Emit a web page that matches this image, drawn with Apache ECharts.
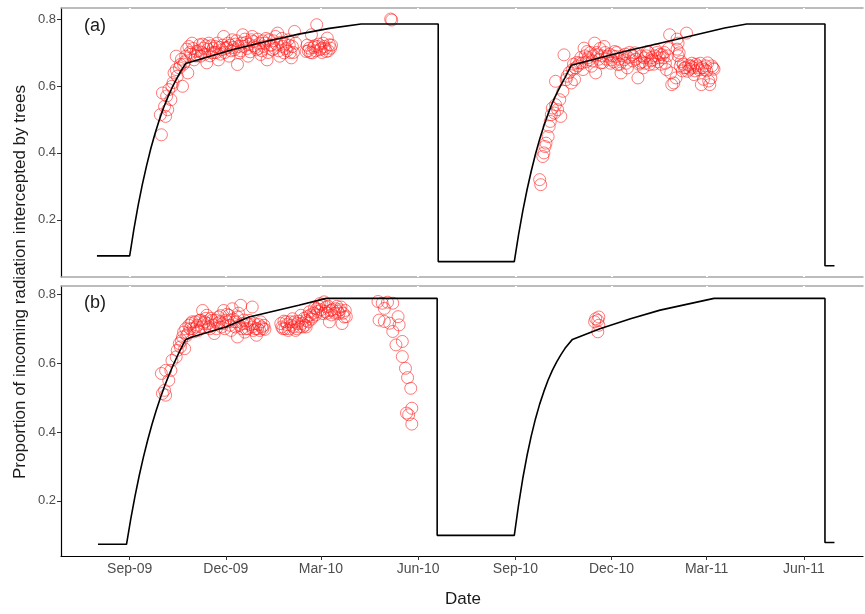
<!DOCTYPE html>
<html>
<head>
<meta charset="utf-8">
<script src="https://cdn.jsdelivr.net/npm/echarts@6/dist/echarts.min.js"></script>
<style>
html,body{margin:0;padding:0;background:#fff;}
#chart{width:865px;height:614px;}
</style>
</head>
<body>
<div id="chart"></div>
<script>
// ---------- DATA ----------
const xTickDates = ['2009-09-01','2009-12-01','2010-03-01','2010-06-01','2010-09-01','2010-12-01','2011-03-01','2011-06-01'];
const yTickValues = [0.2, 0.4, 0.6, 0.8];
const panelLabels = ['(a)', '(b)'];

// Panel (a) model line
const lineADates = ['2009-08-01','2009-09-01','2009-09-05','2009-09-09','2009-09-13','2009-09-17','2009-09-21','2009-09-25','2009-09-29',
  '2009-10-03','2009-10-07','2009-10-11','2009-10-15','2009-10-19','2009-10-24',
  '2009-12-07','2010-01-08','2010-02-08','2010-03-09','2010-04-08','2010-06-20','2010-06-20','2010-08-31',
  '2010-09-04','2010-09-08','2010-09-12','2010-09-16','2010-09-20','2010-09-24','2010-09-28','2010-10-02','2010-10-06',
  '2010-10-10','2010-10-14','2010-10-18','2010-10-24',
  '2010-12-13','2011-01-30','2011-03-18','2011-04-08','2011-06-21','2011-06-21','2011-06-30'];
const lineAValues = [0.092,0.092,0.172,0.243,0.306,0.362,0.413,0.458,0.498,
  0.534,0.566,0.594,0.619,0.642,0.667,
  0.708,0.733,0.755,0.772,0.785,0.785,0.075,0.075,
  0.155,0.226,0.289,0.345,0.396,0.441,0.481,0.517,0.549,
  0.577,0.602,0.625,0.662,
  0.703,0.738,0.773,0.785,0.785,0.0625,0.0625];

// Panel (a) observations, season 2009-10
const scatterA1Dates = ['2009-10-01','2009-09-30','2009-10-02','2009-10-04','2009-10-05','2009-10-07','2009-10-08','2009-10-10','2009-10-11','2009-10-13',
  '2009-10-15','2009-10-16','2009-10-18','2009-10-21','2009-10-15','2009-10-19','2009-10-24','2009-10-26','2009-10-27','2009-10-30',
  '2009-11-01','2009-11-03','2009-11-06','2009-11-07','2009-11-10','2009-11-13','2009-11-15','2009-11-18','2009-11-21','2009-11-24',
  '2009-11-27','2009-11-29','2009-12-03','2009-12-04','2009-12-07','2009-12-09','2009-12-12','2009-12-14','2009-12-17','2009-12-18',
  '2009-12-22','2009-12-25','2009-12-26','2009-12-30','2010-01-02','2010-01-03','2010-01-06','2010-01-09','2010-01-11','2010-01-14',
  '2010-01-17','2010-01-19','2010-01-21','2010-01-24','2010-01-25','2010-01-29','2010-02-01','2010-02-02','2010-02-04','2010-02-05',
  '2010-02-15','2010-02-18','2010-02-20','2010-02-21','2010-02-25','2010-02-26','2010-02-28','2010-03-03','2010-03-06','2010-03-09',
  '2010-03-07','2010-03-10','2010-05-06','2010-05-07',
  '2009-10-20','2009-10-28','2009-11-04','2009-11-12','2009-11-20','2009-12-01','2009-12-10','2009-12-20','2009-12-28','2010-01-05',
  '2010-01-13','2010-01-22','2010-01-27','2010-02-03','2010-02-17','2010-02-23','2010-03-01','2010-03-04','2010-03-08','2010-03-11',
  '2009-10-12','2009-10-06','2009-10-22','2009-10-25',
  '2009-10-23','2009-10-29','2009-10-31','2009-11-02','2009-11-05','2009-11-08','2009-11-09','2009-11-11','2009-11-14','2009-11-16',
  '2009-11-17','2009-11-19','2009-11-22','2009-11-23','2009-11-25','2009-11-26','2009-11-28','2009-11-30','2009-12-02','2009-12-05',
  '2009-12-06','2009-12-08','2009-12-11','2009-12-13','2009-12-15','2009-12-16','2009-12-19','2009-12-21','2009-12-23','2009-12-24',
  '2009-12-27','2009-12-29','2009-12-31','2010-01-01','2010-01-04','2010-01-07','2010-01-08','2010-01-10','2010-01-12','2010-01-15',
  '2010-01-16','2010-01-18','2010-01-20','2010-01-23','2010-01-26','2010-01-28','2010-01-30','2010-01-31','2010-02-16','2010-02-19',
  '2010-02-22','2010-02-24','2010-02-27','2010-03-02','2010-03-05'];
const scatterA1Values = [0.454,0.514,0.579,0.539,0.509,0.529,0.589,0.559,0.599,0.639,
  0.649,0.629,0.654,0.599,0.689,0.664,0.689,0.639,0.718,0.728,
  0.678,0.703,0.723,0.689,0.713,0.669,0.728,0.699,0.718,0.678,
  0.708,0.748,0.728,0.689,0.738,0.708,0.664,0.699,0.753,0.718,
  0.689,0.738,0.748,0.708,0.728,0.694,0.718,0.678,0.738,0.708,
  0.748,0.758,0.689,0.718,0.699,0.738,0.684,0.718,0.763,0.728,
  0.703,0.713,0.753,0.699,0.783,0.718,0.708,0.728,0.703,0.723,
  0.743,0.713,0.800,0.797,
  0.680,0.700,0.690,0.720,0.700,0.712,0.725,0.730,0.720,0.735,
  0.722,0.730,0.712,0.700,0.705,0.720,0.712,0.718,0.705,0.722,
  0.610,0.570,0.665,0.710,
  0.672,0.695,0.712,0.690,0.705,0.700,0.725,0.695,0.710,0.690,
  0.720,0.712,0.700,0.728,0.715,0.695,0.722,0.700,0.715,0.722,
  0.705,0.715,0.735,0.718,0.705,0.728,0.740,0.712,0.725,0.702,
  0.733,0.715,0.740,0.712,0.705,0.728,0.742,0.700,0.722,0.735,
  0.712,0.725,0.705,0.742,0.725,0.705,0.722,0.700,0.722,0.700,
  0.715,0.705,0.725,0.700,0.712];

// Panel (a) observations, season 2010-11
const scatterA2Dates = ['2010-09-24','2010-09-25','2010-09-27','2010-09-28','2010-09-29','2010-09-30','2010-10-02','2010-10-03','2010-10-04','2010-10-05',
  '2010-10-06','2010-10-08','2010-10-09','2010-10-11','2010-10-13','2010-10-14','2010-10-16','2010-10-09','2010-10-17','2010-10-19',
  '2010-10-20','2010-10-24','2010-10-25','2010-10-27','2010-10-28','2010-11-01','2010-11-04','2010-11-05','2010-11-08','2010-11-10',
  '2010-11-12','2010-11-15','2010-11-16','2010-11-18','2010-11-21','2010-11-24','2010-11-27','2010-12-01','2010-12-04','2010-12-07',
  '2010-12-10','2010-12-13','2010-12-16','2010-12-20','2010-12-23','2010-12-26','2010-12-28','2010-12-31','2011-01-01','2011-01-04',
  '2011-01-06','2011-01-09','2011-01-12','2011-01-15','2011-01-18','2011-01-22','2011-01-25','2011-01-26','2011-01-29','2011-01-31',
  '2011-02-02','2011-02-01','2011-02-01','2011-02-02','2011-02-03','2011-02-05','2011-02-10','2011-02-08','2011-02-11','2011-02-14',
  '2011-02-17','2011-02-21','2011-02-24','2011-02-27','2011-03-02','2011-03-05','2011-03-07','2011-03-04','2011-01-27',
  '2010-10-22','2010-10-26','2010-10-29','2010-10-30','2010-11-02','2010-11-03','2010-11-06','2010-11-07','2010-11-09','2010-11-11',
  '2010-11-13','2010-11-14','2010-11-17','2010-11-19','2010-11-20','2010-11-22','2010-11-23','2010-11-25','2010-11-26','2010-11-29',
  '2010-11-30','2010-12-02','2010-12-03','2010-12-05','2010-12-06','2010-12-08','2010-12-09','2010-12-11','2010-12-14','2010-12-15',
  '2010-12-17','2010-12-18','2010-12-21','2010-12-22','2010-12-24','2010-12-27','2010-12-29','2010-12-30','2011-01-02','2011-01-03',
  '2011-01-05','2011-01-07','2011-01-08','2011-01-10','2011-01-11','2011-01-13','2011-01-14','2011-01-16','2011-01-17','2011-01-19',
  '2011-01-20','2011-01-21','2011-01-23','2011-01-24','2011-02-04','2011-02-06','2011-02-07','2011-02-09','2011-02-12','2011-02-13',
  '2011-02-15','2011-02-16','2011-02-18','2011-02-19','2011-02-20','2011-02-22','2011-02-23','2011-02-25','2011-02-26','2011-02-28',
  '2011-03-01','2011-03-03','2011-03-06','2011-03-08'];
const scatterA2Values = [0.320,0.305,0.389,0.400,0.419,0.429,0.449,0.479,0.494,0.514,
  0.534,0.519,0.544,0.529,0.559,0.509,0.584,0.614,0.693,0.619,
  0.629,0.609,0.649,0.619,0.654,0.669,0.649,0.713,0.703,0.678,
  0.659,0.728,0.639,0.693,0.669,0.718,0.689,0.678,0.703,0.664,
  0.639,0.678,0.654,0.693,0.699,0.624,0.669,0.654,0.684,0.703,
  0.664,0.678,0.708,0.684,0.693,0.649,0.753,0.639,0.609,0.624,
  0.728,0.740,0.710,0.690,0.699,0.673,0.758,0.654,0.644,0.659,
  0.634,0.654,0.604,0.649,0.669,0.624,0.654,0.604,0.604,
  0.640,0.665,0.670,0.660,0.685,0.668,0.690,0.672,0.685,0.700,
  0.675,0.690,0.700,0.680,0.712,0.690,0.670,0.700,0.680,0.695,
  0.668,0.690,0.672,0.688,0.700,0.680,0.665,0.690,0.695,0.668,
  0.685,0.700,0.675,0.688,0.680,0.665,0.690,0.672,0.668,0.690,
  0.700,0.675,0.685,0.665,0.690,0.700,0.672,0.695,0.665,0.685,
  0.700,0.668,0.690,0.712,0.660,0.645,0.665,0.655,0.662,0.650,
  0.668,0.655,0.645,0.665,0.660,0.648,0.668,0.655,0.620,0.660,
  0.645,0.615,0.660,0.650];

// Panel (b) model line
const lineBDates = ['2009-08-02','2009-08-29','2009-09-02','2009-09-06','2009-09-10','2009-09-14','2009-09-18','2009-09-22','2009-09-26','2009-09-30',
  '2009-10-04','2009-10-08','2009-10-12','2009-10-16','2009-10-20','2009-10-24',
  '2009-10-30','2009-12-01','2009-12-23','2010-02-08','2010-03-06','2010-06-19','2010-06-19','2010-08-31',
  '2010-09-04','2010-09-08','2010-09-12','2010-09-16','2010-09-20','2010-09-24','2010-09-28','2010-10-02','2010-10-06',
  '2010-10-10','2010-10-14','2010-10-18','2010-10-25',
  '2010-11-20','2010-12-19','2011-01-16','2011-03-08','2011-06-21','2011-06-21','2011-06-30'];
const lineBValues = [0.074,0.074,0.147,0.213,0.273,0.327,0.376,0.421,0.462,0.499,
  0.533,0.564,0.593,0.620,0.645,0.669,
  0.676,0.705,0.734,0.768,0.788,0.788,0.100,0.100,
  0.188,0.265,0.331,0.388,0.438,0.481,0.518,0.551,0.579,
  0.603,0.624,0.643,0.669,
  0.700,0.729,0.754,0.788,0.788,0.079,0.079];

// Panel (b) observations
const scatterBDates = ['2009-10-02','2009-10-04','2009-10-05','2009-10-01','2009-10-05','2009-10-08','2009-10-10','2009-10-11','2009-10-15','2009-10-16',
  '2009-10-18','2009-10-19','2009-10-21','2009-10-23','2009-10-24','2009-10-26','2009-10-27','2009-10-30','2009-11-01','2009-11-03',
  '2009-11-06','2009-11-09','2009-11-10','2009-11-13','2009-11-15','2009-11-18','2009-11-20','2009-11-23','2009-11-24','2009-11-27',
  '2009-11-29','2009-12-03','2009-12-04','2009-12-06','2009-12-07','2009-12-09','2009-12-12','2009-12-12','2009-12-15','2009-12-17',
  '2009-12-20','2009-12-23','2009-12-26','2009-12-26','2009-12-30','2009-12-31','2010-01-03','2010-01-05','2010-01-06',
  '2010-01-22','2010-01-24','2010-01-27','2010-01-29','2010-02-01','2010-02-02','2010-02-05','2010-02-07','2010-02-10','2010-02-12',
  '2010-02-15','2010-02-18','2010-02-21','2010-02-25','2010-02-28','2010-03-03','2010-03-04','2010-03-06','2010-03-09','2010-03-10',
  '2010-03-15','2010-03-18','2010-03-20','2010-03-21','2010-03-23','2010-03-24','2010-02-15',
  '2010-04-24','2010-04-28','2010-05-03','2010-05-08','2010-04-30','2010-04-25','2010-04-30','2010-05-05','2010-05-13','2010-05-14',
  '2010-05-08','2010-05-11','2010-05-17','2010-05-17','2010-05-20','2010-05-22','2010-05-25','2010-05-26','2010-05-21','2010-05-23','2010-05-26',
  '2010-11-16','2010-11-18','2010-11-19','2010-11-15','2010-11-18','2010-11-19',
  '2009-10-20','2009-10-22','2009-10-25','2009-10-28','2009-10-29','2009-10-31','2009-11-02','2009-11-04','2009-11-05','2009-11-07',
  '2009-11-08','2009-11-11','2009-11-12','2009-11-14','2009-11-16','2009-11-17','2009-11-19','2009-11-21','2009-11-22','2009-11-25',
  '2009-11-26','2009-11-28','2009-11-30','2009-12-01','2009-12-02','2009-12-05','2009-12-08','2009-12-10','2009-12-11','2009-12-13',
  '2009-12-14','2009-12-16','2009-12-18','2009-12-19','2009-12-21','2009-12-22','2009-12-24','2009-12-27','2009-12-28','2009-12-29',
  '2010-01-01','2010-01-02','2010-01-04','2010-01-07','2010-01-23','2010-01-25','2010-01-26','2010-01-28','2010-01-30','2010-01-31',
  '2010-02-03','2010-02-04','2010-02-06','2010-02-08','2010-02-09','2010-02-11','2010-02-13','2010-02-14','2010-02-16','2010-02-17',
  '2010-02-19','2010-02-20','2010-02-22','2010-02-23','2010-02-24','2010-02-26','2010-02-27','2010-03-01','2010-03-02','2010-03-05',
  '2010-03-07','2010-03-08','2010-03-11','2010-03-12','2010-03-14','2010-03-16','2010-03-17','2010-03-19','2010-03-22','2010-03-25'];
const scatterBValues = [0.512,0.521,0.507,0.570,0.579,0.550,0.579,0.608,0.618,0.637,
  0.657,0.647,0.676,0.642,0.700,0.686,0.710,0.720,0.691,0.705,
  0.724,0.753,0.715,0.739,0.705,0.724,0.686,0.715,0.734,0.705,
  0.753,0.720,0.739,0.695,0.758,0.720,0.734,0.676,0.768,0.715,
  0.700,0.724,0.763,0.705,0.681,0.700,0.720,0.700,0.710,
  0.715,0.700,0.720,0.695,0.710,0.729,0.695,0.715,0.739,0.705,
  0.724,0.749,0.734,0.758,0.773,0.744,0.778,0.763,0.720,0.753,
  0.758,0.744,0.763,0.715,0.734,0.753,0.705,
  0.779,0.774,0.777,0.774,0.759,0.725,0.721,0.716,0.735,0.711,
  0.692,0.653,0.663,0.619,0.585,0.558,0.527,0.469,0.455,0.450,0.423,
  0.729,0.724,0.734,0.720,0.691,0.710,
  0.665,0.690,0.680,0.700,0.715,0.700,0.720,0.710,0.695,0.725,
  0.705,0.720,0.730,0.715,0.700,0.730,0.710,0.725,0.700,0.720,
  0.738,0.715,0.700,0.725,0.742,0.710,0.728,0.705,0.720,0.745,
  0.710,0.700,0.725,0.690,0.715,0.700,0.712,0.695,0.715,0.700,
  0.712,0.695,0.705,0.698,0.705,0.722,0.700,0.712,0.700,0.720,
  0.705,0.720,0.700,0.722,0.705,0.715,0.730,0.710,0.735,0.720,
  0.740,0.728,0.745,0.760,0.740,0.750,0.765,0.755,0.770,0.750,
  0.745,0.765,0.740,0.755,0.745,0.765,0.750,0.755,0.745,0.735];

// ---------- CHART ----------
function parseDay(s){ const p = s.split('-').map(Number); return new Date(p[0], p[1]-1, p[2]).getTime(); }
function zip(d, v){ return d.map((s,i)=>[parseDay(s), v[i]]); }
const months = ['Jan','Feb','Mar','Apr','May','Jun','Jul','Aug','Sep','Oct','Nov','Dec'];
const tickTs = xTickDates.map(parseDay);
const xMin = parseDay('2009-06-28'), xMax = parseDay('2011-07-27');
const FONT = 'Liberation Sans, Arial, sans-serif';

function grayX(gridIndex, pos){
  return {type:'value', gridIndex, position:pos, min:xMin, max:xMax, scale:true,
    axisLine:{show:true, lineStyle:{color:'#a6a6a6', width:1.5}},
    axisTick:{show:true, inside:true, length:2, lineStyle:{color:'#fff', width:2}, customValues:tickTs},
    axisLabel:{show:false, customValues:tickTs}, splitLine:{show:false}};
}
function yAx(gridIndex, mn, mx){
  return {type:'value', gridIndex, min:mn, max:mx,
    axisLine:{show:true, lineStyle:{color:'#000', width:1.2}},
    axisTick:{show:true, length:4, lineStyle:{color:'#333'}, customValues:yTickValues},
    axisLabel:{show:true, customValues:yTickValues, formatter:v=>v.toFixed(1), color:'#4d4d4d', fontSize:13, fontFamily:FONT, margin:5},
    splitLine:{show:false}};
}

const chart = echarts.init(document.getElementById('chart'), null, {renderer:'canvas'});
const circleStyle = {color:'rgba(0,0,0,0)', borderColor:'rgba(255,25,25,0.72)', borderWidth:1};
function scatter(xi, yi, d, v){
  return {type:'scatter', xAxisIndex:xi, yAxisIndex:yi, data:zip(d, v), symbol:'circle', symbolSize:12, itemStyle:circleStyle, z:2};
}
chart.setOption({
  animation:false,
  backgroundColor:'#fff',
  grid:[
    {left:61, top:8, width:802, height:269},
    {left:61, top:286, width:802, height:270}
  ],
  xAxis:[
    grayX(0,'bottom'),
    grayX(0,'top'),
    {type:'value', gridIndex:1, position:'bottom', min:xMin, max:xMax, scale:true,
      axisLine:{show:true, lineStyle:{color:'#000', width:1.2}},
      axisTick:{show:true, length:4, lineStyle:{color:'#333'}, customValues:tickTs},
      axisLabel:{show:true, customValues:tickTs, color:'#4d4d4d', fontSize:14, fontFamily:FONT, margin:6,
        formatter:v=>{const d=new Date(v); return months[d.getMonth()]+'-'+String(d.getFullYear()).slice(2);}},
      splitLine:{show:false}},
    grayX(1,'top')
  ],
  yAxis:[ yAx(0, 0.029, 0.833), yAx(1, 0.04, 0.824) ],
  series:[
    scatter(0, 0, scatterA1Dates, scatterA1Values),
    scatter(0, 0, scatterA2Dates, scatterA2Values),
    {type:'line', xAxisIndex:0, yAxisIndex:0, data:zip(lineADates, lineAValues), showSymbol:false, lineStyle:{color:'#000', width:1.6}, z:3},
    scatter(2, 1, scatterBDates, scatterBValues),
    {type:'line', xAxisIndex:2, yAxisIndex:1, data:zip(lineBDates, lineBValues), showSymbol:false, lineStyle:{color:'#000', width:1.6}, z:3}
  ],
  graphic:[
    {type:'text', left:84, top:17, style:{text:panelLabels[0], font:'18px '+FONT, fill:'#1a1a1a'}},
    {type:'text', left:84, top:294, style:{text:panelLabels[1], font:'18px '+FONT, fill:'#1a1a1a'}},
    {type:'text', x:463, y:599, style:{text:'Date', font:'17px '+FONT, fill:'#1a1a1a', align:'center', verticalAlign:'middle'}},
    {type:'text', x:20, y:282, rotation:Math.PI/2, style:{text:'Proportion of incoming radiation intercepted by trees', font:'17px '+FONT, fill:'#1a1a1a', align:'center', verticalAlign:'middle'}}
  ]
});
</script>
</body>
</html>
